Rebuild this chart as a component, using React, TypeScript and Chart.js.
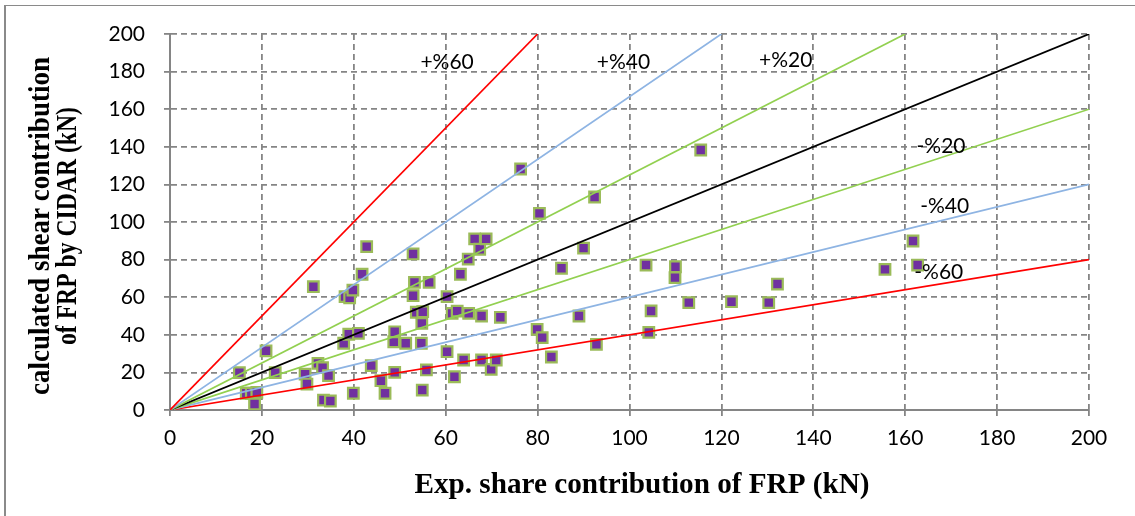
import React, { useEffect, useRef } from "react";
import { Chart, registerables } from "chart.js";

Chart.register(...registerables);

// Experimental FRP shear contribution (kN)
const expShare = [
  15.1, 16.6, 17.7, 18.9, 18.4, 20.9, 22.9, 29.4, 29.8, 31.2,
  32.2, 33.2, 34.5, 33.4, 34.9, 37.8, 38.1, 38.9, 39.1, 39.8,
  39.9, 41.0, 41.8, 42.8, 43.8, 45.9, 46.8, 48.7, 48.9, 48.9,
  51.3, 52.9, 52.9, 53.2, 53.6, 54.7, 54.8, 55.0, 54.9, 55.8,
  56.4, 60.3, 60.3, 61.4, 61.9, 62.5, 63.2, 63.9, 64.9, 65.0,
  66.3, 67.4, 67.8, 67.8, 68.8, 69.9, 71.0, 71.9, 76.3, 79.9,
  80.4, 81.0, 83.0, 85.2, 89.0, 90.0, 92.4, 92.8, 103.6, 104.2,
  104.7, 110.0, 109.9, 112.9, 115.5, 122.2, 130.3, 132.2, 155.6, 161.7,
  162.7,
];

// Shear contribution calculated by CIDAR (kN)
const cidarCalc = [
  19.9, 8.9, 8.9, 9.4, 3.2, 31.5, 19.9, 19.1, 13.8, 65.6,
  24.8, 22.5, 18.3, 5.3, 4.8, 35.5, 60.3, 40.3, 59.7, 63.8,
  8.9, 40.8, 72.2, 86.9, 23.6, 15.6, 8.9, 36.3, 41.6, 20.0,
  35.5, 83.0, 60.8, 67.9, 52.0, 35.5, 46.1, 52.3, 10.6, 21.3,
  67.9, 60.3, 31.0, 51.4, 17.7, 52.6, 72.2, 26.6, 80.3, 51.4,
  91.0, 85.5, 50.0, 26.6, 91.0, 21.6, 26.6, 49.3, 128.2, 42.9,
  104.6, 38.5, 28.2, 75.4, 50.0, 86.1, 113.3, 34.9, 77.1, 41.3,
  52.7, 76.2, 70.4, 57.1, 138.3, 57.6, 57.1, 67.0, 74.8, 89.9,
  77.1,
];

// Error-band reference lines through the origin: +60%, +40%, +20%, 1:1, -20%, -40%, -60%
const bandEndX = [80, 120, 160, 200, 200, 200, 200];
const bandEndY = [200, 200, 200, 200, 160, 120, 80];
const bandColors = ["#FF0000", "#8EB4E3", "#92D050", "#000000", "#92D050", "#8EB4E3", "#FF0000"];

// Band labels and where they sit (data coordinates)
const bandLabels = ["+%60", "+%40", "+%20", "-%20", "-%40", "-%60"];
const bandLabelX = [60.3, 98.7, 134.0, 167.8, 168.6, 167.3];
const bandLabelY = [185, 185, 186, 140.4, 108.5, 73.4];

const axisTicks = [0, 20, 40, 60, 80, 100, 120, 140, 160, 180, 200];

const xTitle = "Exp. share contribution of FRP (kN)";
const yTitleLines = ["calculated shear contribution", "of FRP by CIDAR (kN)"];

const GRID = "#858585";
const TICK_FONT = { family: "Lato", size: 21 };

function drawFittedText(
  ctx: CanvasRenderingContext2D,
  text: string,
  x: number,
  y: number,
  width: number,
  rotate: boolean
) {
  ctx.save();
  ctx.translate(x, y);
  if (rotate) ctx.rotate(-Math.PI / 2);
  const w = ctx.measureText(text).width;
  ctx.scale(width / w, 1);
  ctx.fillText(text, 0, 0);
  ctx.restore();
}

const decorPlugin = {
  id: "decor",
  beforeDraw(chart: any) {
    const ctx = chart.ctx as CanvasRenderingContext2D;
    ctx.save();
    ctx.fillStyle = "#8a8a8a";
    ctx.fillRect(4, 5, 1131, 1);
    ctx.fillRect(4, 5, 2, 511);
    ctx.restore();
  },
  afterDatasetsDraw(chart: any) {
    const ctx = chart.ctx as CanvasRenderingContext2D;
    const xs = chart.scales.x;
    const ys = chart.scales.y;
    ctx.save();
    ctx.fillStyle = "#000";
    ctx.font = '21px "Lato"';
    ctx.textAlign = "center";
    ctx.textBaseline = "middle";
    bandLabels.forEach((t, i) => {
      ctx.fillText(t, xs.getPixelForValue(bandLabelX[i]), ys.getPixelForValue(bandLabelY[i]));
    });
    ctx.restore();
  },
  afterDraw(chart: any) {
    const ctx = chart.ctx as CanvasRenderingContext2D;
    ctx.save();
    ctx.fillStyle = "#000";
    ctx.textAlign = "center";
    ctx.textBaseline = "alphabetic";
    ctx.font = 'bold 30px "Liberation Serif"';
    drawFittedText(ctx, xTitle, 642, 493, 455, false);
    drawFittedText(ctx, yTitleLines[0], 49, 226, 338, true);
    drawFittedText(ctx, yTitleLines[1], 76, 226, 238, true);
    ctx.restore();
  },
};

export default function App() {
  const canvasRef = useRef<HTMLCanvasElement>(null);

  useEffect(() => {
    const canvas = canvasRef.current;
    if (!canvas) return;

    const bandSets = bandEndX.map((ex, i) => ({
      type: "scatter" as const,
      data: [
        { x: 0, y: 0 },
        { x: ex, y: bandEndY[i] },
      ],
      showLine: true,
      borderColor: bandColors[i],
      borderWidth: 1.7,
      pointRadius: 0,
      fill: false,
      order: 0,
    }));

    const chart = new Chart(canvas, {
      type: "scatter",
      data: {
        datasets: [
          ...bandSets,
          {
            type: "scatter" as const,
            data: expShare.map((x, i) => ({ x, y: cidarCalc[i] })),
            pointStyle: "rect",
            pointRadius: 7.5,
            pointBorderWidth: 2.2,
            pointBackgroundColor: "#7030A0",
            pointBorderColor: "#9BBB59",
            order: 1,
          },
        ],
      },
      options: {
        responsive: false,
        animation: false,
        devicePixelRatio: 1,
        layout: { padding: { top: 34, right: 46, left: 0, bottom: 0 } },
        plugins: {
          legend: { display: false },
          tooltip: { enabled: false },
          title: { display: false },
        },
        scales: {
          x: {
            type: "linear",
            min: 0,
            max: 200,
            afterFit: (s: any) => {
              s.height = 106;
            },
            afterBuildTicks: (s: any) => {
              s.ticks = axisTicks.map((v) => ({ value: v }));
            },
            ticks: { font: TICK_FONT, color: "#000", padding: 10, maxRotation: 0 },
            grid: {
              color: GRID,
              lineWidth: 1.8,
              drawTicks: true,
              tickLength: 6,
              tickColor: GRID,
              tickBorderDash: [],
            },
            border: { display: true, color: GRID, width: 2, dash: [6, 4] },
          },
          y: {
            type: "linear",
            min: 0,
            max: 200,
            afterFit: (s: any) => {
              s.width = 170;
            },
            afterBuildTicks: (s: any) => {
              s.ticks = axisTicks.map((v) => ({ value: v }));
            },
            ticks: { font: TICK_FONT, color: "#000", padding: 19 },
            grid: {
              color: GRID,
              lineWidth: 1.8,
              drawTicks: true,
              tickLength: 6,
              tickColor: GRID,
              tickBorderDash: [],
            },
            border: { display: true, color: GRID, width: 2, dash: [6, 4] },
          },
        },
      },
      plugins: [decorPlugin],
    } as any);

    return () => chart.destroy();
  }, []);

  return (
    <div
      style={{
        position: "fixed",
        left: 0,
        top: 0,
        width: 1135,
        height: 516,
        background: "#fff",
      }}
    >
      <canvas ref={canvasRef} width={1135} height={516} style={{ display: "block" }} />
    </div>
  );
}
